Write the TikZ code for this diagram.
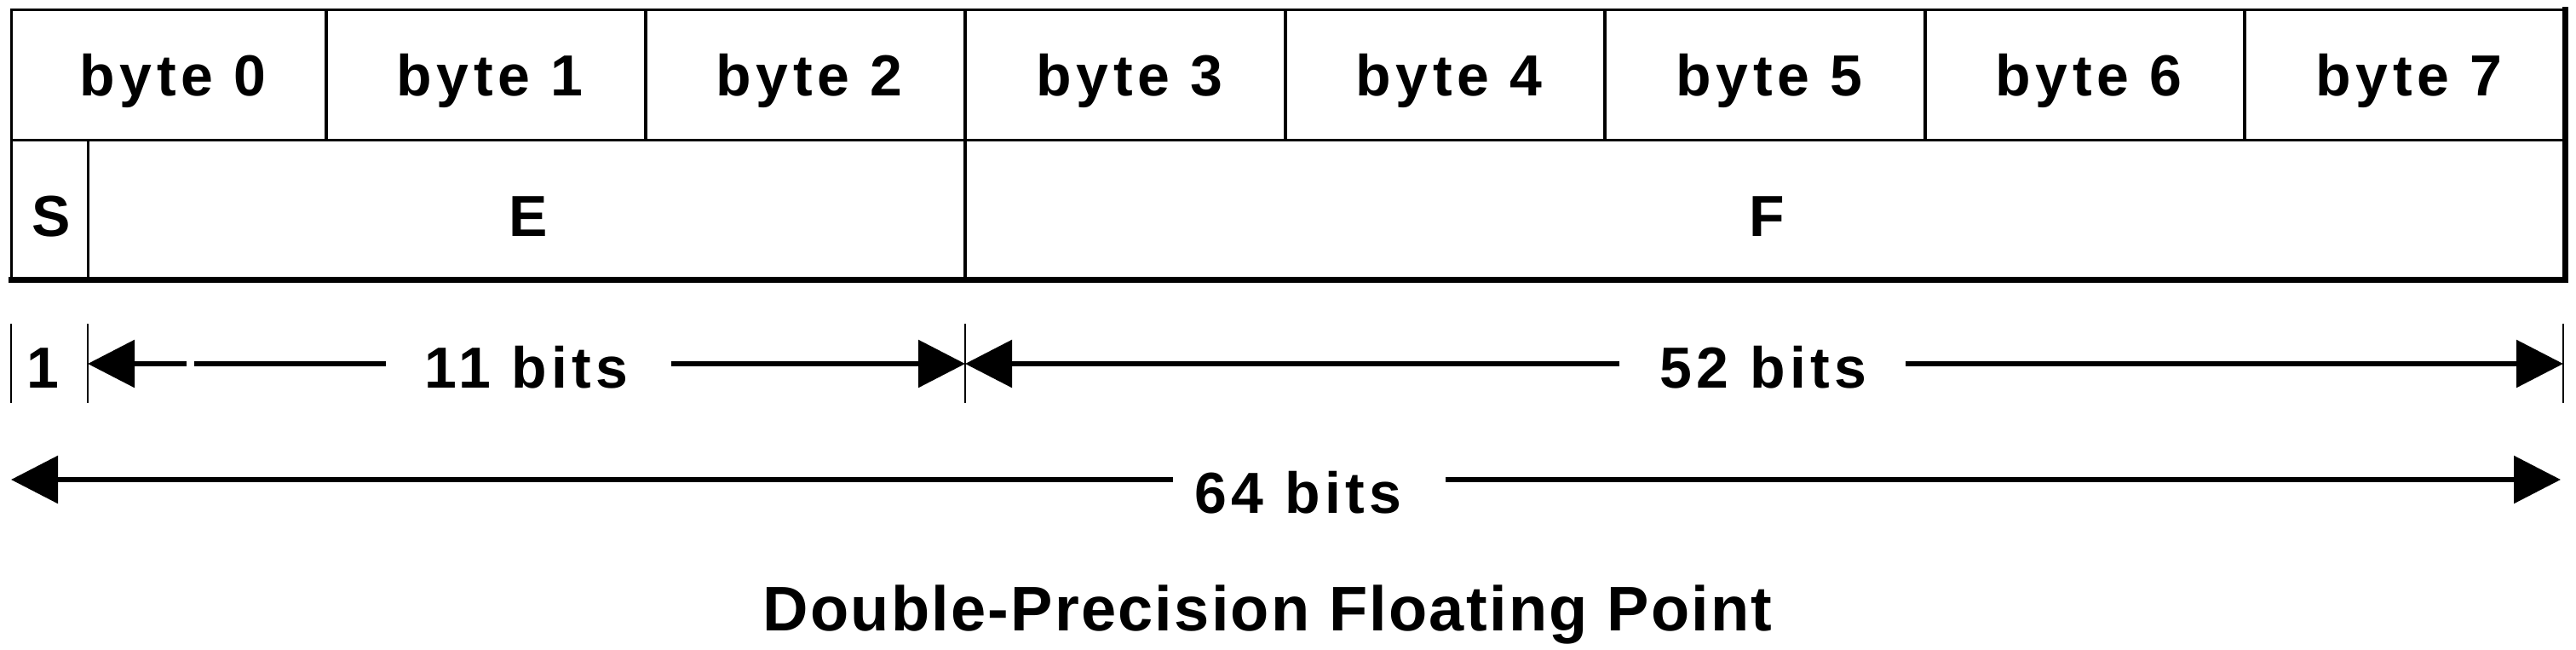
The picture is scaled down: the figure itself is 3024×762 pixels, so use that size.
\documentclass[tikz,border=0pt]{standalone}
\usepackage{fontspec}
\setmainfont{Liberation Sans}
\newfontfamily\lblfont{Liberation Sans}[LetterSpace=8]
\newfontfamily\capfont{Liberation Sans}[LetterSpace=3]
\usetikzlibrary{arrows.meta}
\tikzset{
  lbl/.style={font=\lblfont\bfseries\fontsize{17}{20}\selectfont, inner sep=0pt, anchor=base},
  caption/.style={font=\capfont\bfseries\fontsize{18.5}{22}\selectfont, inner sep=0pt, anchor=base},
  gridthin/.style={line width=0.75pt},
  gridmid/.style={line width=1pt},
  gridthick/.style={line width=1.75pt, line cap=rect},
  dimline/.style={line width=1.5pt},
  dimarrow/.style={line width=1.5pt, -{Triangle[length=13.75pt,width=13.75pt]}},
  ticker/.style={line width=0.6pt}
}
\begin{document}
\begin{tikzpicture}[x=0.25pt,y=-0.25pt]
\useasboundingbox (0,0) rectangle (3024,762);
% ---- table grid ----
\draw[gridthin] (13,328) -- (13,11) -- (3011,11);
\draw[gridthick] (13,328) -- (3011,328) -- (3011,11);
\draw[gridthin] (13,164) -- (3011,164);
\foreach \x in {383,758,1133,1509,1884,2260,2635}
  \draw[gridmid] (\x,11) -- (\x,164);
\draw[gridmid] (1133,164) -- (1133,328);
\draw[gridthin] (103,164) -- (103,328);
% ---- byte labels ----
\node[lbl] (b0) at (203,112) {byte 0};
\node[lbl] (b1) at (575,112) {byte 1};
\node[lbl] (b2) at (950,112) {byte 2};
\node[lbl] (b3) at (1326,112) {byte 3};
\node[lbl] (b4) at (1701,112) {byte 4};
\node[lbl] (b5) at (2077,112) {byte 5};
\node[lbl] (b6) at (2452,112) {byte 6};
\node[lbl] (b7) at (2828,112) {byte 7};
% ---- field labels ----
\node[lbl] (s) at (60,277) {S};
\node[lbl] (e) at (620,277) {E};
\node[lbl] (f) at (2074,277) {F};
% ---- dimension ticks ----
\coordinate (k0t) at (13,380);   \coordinate (k0b) at (13,473);
\coordinate (k1t) at (103,380);  \coordinate (k1b) at (103,473);
\coordinate (k2t) at (1133,380); \coordinate (k2b) at (1133,473);
\coordinate (k3t) at (3009,380); \coordinate (k3b) at (3009,473);
\draw[ticker] (k0t) -- (k0b);
\draw[ticker] (k1t) -- (k1b);
\draw[ticker] (k2t) -- (k2b);
\draw[ticker] (k3t) -- (k3b);
\coordinate (d1) at (103,427);
\coordinate (d2) at (1133,427);
\coordinate (d3) at (3009,427);
% ---- 1 ----
\node[lbl] (one) at (50,455) {1};
% ---- 11 bits ----
\node[lbl] (l11) at (618,455) {11 bits};
\coordinate (l11w) at (453,427);
\coordinate (l11e) at (788,427);
\coordinate (gapa) at (228,427);
\coordinate (gapb) at (219,427);
\draw[dimline] (l11w) -- (gapa);
\draw[dimarrow] (gapb) -- (d1);
\draw[dimarrow] (l11e) -- (d2);
% ---- 52 bits ----
\node[lbl] (l52) at (2070,455) {52 bits};
\coordinate (l52w) at (1901,427);
\coordinate (l52e) at (2237,427);
\draw[dimarrow] (l52w) -- (d2);
\draw[dimarrow] (l52e) -- (d3);
% ---- 64 bits ----
\node[lbl] (l64) at (1524,602) {64 bits};
\coordinate (l64w) at (1377,563);
\coordinate (l64e) at (1697,563);
\coordinate (a64l) at (13,563);
\coordinate (a64r) at (3006,563);
\draw[dimarrow] (l64w) -- (a64l);
\draw[dimarrow] (l64e) -- (a64r);
% ---- caption ----
\node[caption] (cap) at (1488,740) {Double-Precision Floating Point};
\end{tikzpicture}
\end{document}
